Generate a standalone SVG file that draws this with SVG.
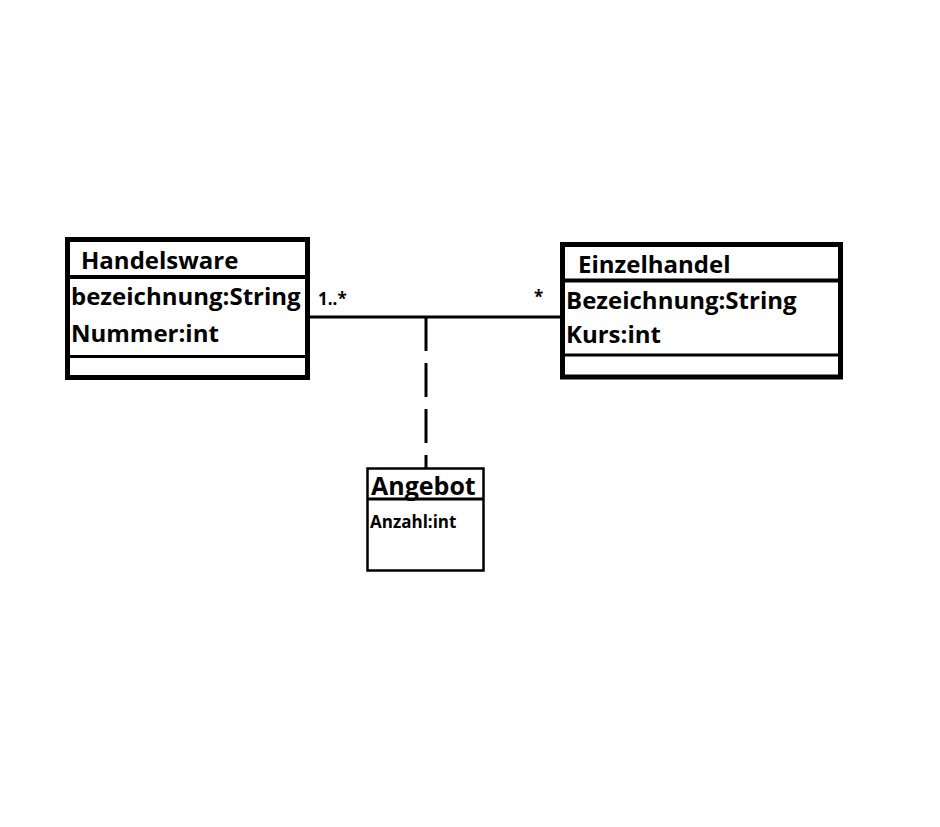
<svg xmlns="http://www.w3.org/2000/svg" width="940" height="827" viewBox="0 0 940 827">
<style>
.t{font-family:"Open Sans","Liberation Sans",sans-serif;font-weight:bold;fill:#000}
.box{fill:#fff;stroke:#000}
</style>
<rect width="940" height="827" fill="#fff"/>
<g id="connectors">
<line x1="308" y1="317" x2="562" y2="317" stroke="#000" stroke-width="3"/>
<line x1="426" y1="317" x2="426" y2="468" stroke="#000" stroke-width="3" stroke-dasharray="34,12"/>
<text class="t" x="318" y="305" font-size="17">1..*</text>
<text class="t" x="534" y="303" font-size="17">*</text>
</g>
<g id="Handelsware">
<rect class="box" x="67.5" y="239.5" width="240" height="138" stroke-width="5"/>
<line x1="67" y1="277" x2="308" y2="277" stroke="#000" stroke-width="4"/>
<line x1="67" y1="356.5" x2="308" y2="356.5" stroke="#000" stroke-width="3"/>
<text class="t" x="81" y="269" font-size="24">Handelsware</text>
<text class="t" x="71" y="305" font-size="24">bezeichnung:String</text>
<text class="t" x="71" y="342" font-size="24">Nummer:int</text>
</g>
<g id="Einzelhandel">
<rect class="box" x="562.5" y="244.5" width="278" height="132.5" stroke-width="5"/>
<line x1="562" y1="280.5" x2="841" y2="280.5" stroke="#000" stroke-width="4"/>
<line x1="562" y1="355" x2="841" y2="355" stroke="#000" stroke-width="3"/>
<text class="t" x="578" y="273" font-size="24">Einzelhandel</text>
<text class="t" x="566" y="309" font-size="24">Bezeichnung:String</text>
<text class="t" x="566" y="343" font-size="24">Kurs:int</text>
</g>
<g id="Angebot">
<rect class="box" x="367.5" y="468.5" width="116" height="102" stroke-width="2.5"/>
<line x1="367" y1="499" x2="484" y2="499" stroke="#000" stroke-width="3"/>
<text class="t" x="371" y="495" font-size="25">Angebot</text>
<text class="t" x="370" y="528" font-size="17">Anzahl:int</text>
</g>
</svg>
